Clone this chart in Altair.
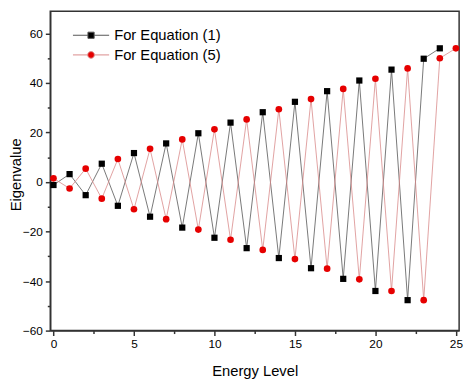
import altair as alt
import pandas as pd

# ---- data ----
series_names = ["For Equation (1)", "For Equation (5)"]

levels_eq1 = list(range(25))  # 0..24
eig_eq1 = [-1.2, 3.2, -5.3, 7.4, -9.6, 11.7, -14.0, 15.6, -18.4, 19.7,
           -22.5, 24.0, -26.7, 28.2, -30.7, 32.4, -34.8, 36.7, -39.1, 41.0,
           -44.0, 45.4, -47.7, 49.8, 54.0]

levels_eq5 = list(range(26))  # 0..25
eig_eq5 = [1.5, -2.6, 5.4, -6.7, 9.3, -11.0, 13.4, -15.0, 17.2, -19.2,
           21.3, -23.3, 25.3, -27.4, 29.4, -31.1, 33.5, -35.0, 37.6, -39.3,
           41.7, -44.0, 45.9, -47.7, 50.0, 54.0]

x_ticks = [0, 2.5, 5, 7.5, 10, 12.5, 15, 17.5, 20, 22.5, 25]
y_ticks = [-60, -50, -40, -30, -20, -10, 0, 10, 20, 30, 40, 50, 60]

df1 = pd.DataFrame({"level": levels_eq1, "eig": eig_eq1, "series": series_names[0]})
df5 = pd.DataFrame({"level": levels_eq5, "eig": eig_eq5, "series": series_names[1]})
df_all = pd.concat([df1, df5], ignore_index=True)

FONT = "Liberation Sans"
FRAME = "#333333"
BLACK_LINE = "#555555"
RED_LINE = "#d98a8a"
RED = "#e60000"

x_enc = alt.X(
    "level:Q",
    scale=alt.Scale(domain=[-0.2, 25.2], nice=False, zero=False),
    axis=alt.Axis(
        title="Energy Level",
        values=x_ticks,
        labelExpr="datum.value % 5 === 0 ? datum.label : ''",
        tickSize={"condition": {"test": "datum.value % 5 === 0", "value": 5}, "value": 3},
        labelFlush=False,
        labelPadding=3,
        titlePadding=15,
    ),
)
y_enc = alt.Y(
    "eig:Q",
    scale=alt.Scale(domain=[-60, 69], nice=False, zero=False),
    axis=alt.Axis(
        title="Eigenvalue",
        values=y_ticks,
        labelExpr="datum.value % 20 === 0 ? datum.label : ''",
        tickSize={"condition": {"test": "datum.value % 20 === 0", "value": 5}, "value": 3},
        labelFlush=False,
        labelPadding=3,
        titleX=-27,
        titleY=166,
        titleBaseline="bottom",
        titleAngle=270,
    ),
)

line1 = alt.Chart(df1).mark_line(color=BLACK_LINE, strokeWidth=0.8).encode(x=x_enc, y=y_enc)
line5 = alt.Chart(df5).mark_line(color=RED_LINE, strokeWidth=0.8).encode(x=x_enc, y=y_enc)
pts1 = alt.Chart(df1).mark_point(shape="square", filled=True, color="black", size=40, opacity=1).encode(x=x_enc, y=y_enc)
pts5 = alt.Chart(df5).mark_point(shape="circle", filled=True, color=RED, size=46, opacity=1).encode(x=x_enc, y=y_enc)

# legend-only layer (no drawn points): symbols are line + marker paths
path_sq = "M-4.6,0H-0.79M0.79,0H4.6M-0.79,-0.79H0.79V0.79H-0.79Z"
path_ci = "M-4.6,0H-0.85M0.85,0H4.6M0.85,0A0.85,0.85,0,1,1,-0.85,0A0.85,0.85,0,1,1,0.85,0Z"

leg = alt.Legend(
    title=None, orient="none", legendX=34, legendY=17,
    labelFont=FONT, labelFontSize=15, labelColor="black",
    symbolSize=64, symbolStrokeWidth=1, labelOffset=16, rowPadding=4, padding=0,
)
legend_layer = (
    alt.Chart(df_all)
    .transform_filter("datum.level < -100")
    .mark_point(filled=True, opacity=1, size=64)
    .encode(
        x=x_enc, y=y_enc,
        fill=alt.Fill("series:N", scale=alt.Scale(domain=series_names, range=["black", RED]), legend=leg),
        stroke=alt.Stroke("series:N", scale=alt.Scale(domain=series_names, range=[BLACK_LINE, RED_LINE]), legend=leg),
        shape=alt.Shape("series:N", scale=alt.Scale(domain=series_names, range=[path_sq, path_ci]), legend=leg),
    )
)

chart = (
    alt.layer(line1, line5, pts1, pts5, legend_layer)
    .properties(
        width=416, height=325,
        autosize=alt.AutoSizeParams(type="none"),
        padding={"left": 43, "top": 0, "right": 7, "bottom": 46},
    )
    .configure_view(stroke=FRAME, strokeWidth=1.5)
    .configure_axis(
        grid=False,
        domainColor=FRAME, domainWidth=1.5,
        tickColor=FRAME, tickWidth=1.5,
        labelFont=FONT, labelFontSize=12, labelColor="black",
        titleFont=FONT, titleFontSize=15, titleFontWeight="normal", titleColor="black",
    )
)

chart.save("out.html", embed_options={"renderer": "svg", "actions": False})
